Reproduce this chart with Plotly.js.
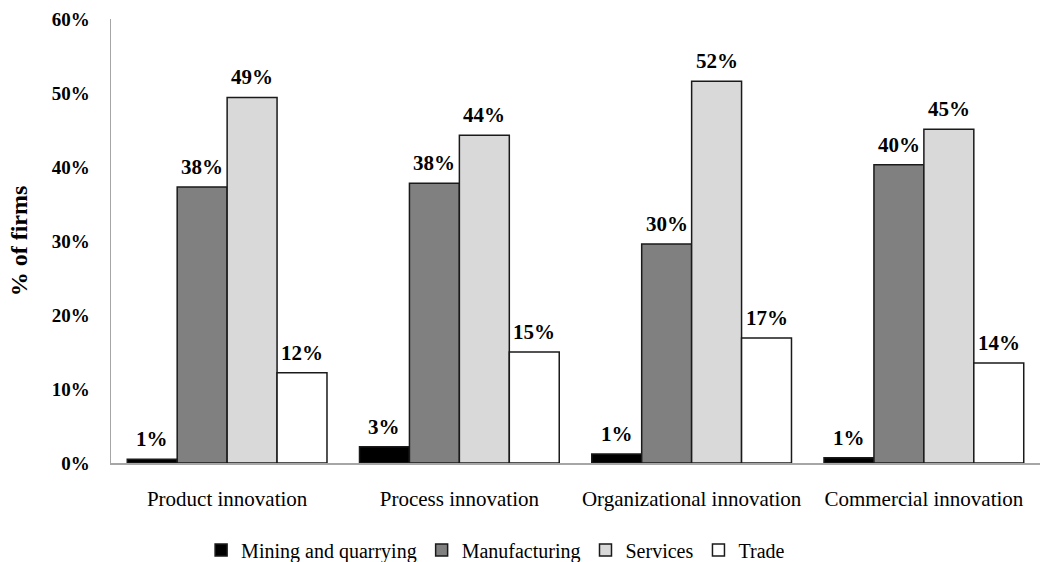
<!DOCTYPE html>
<html>
<head>
<meta charset="utf-8">
<script src="https://cdn.plot.ly/plotly-3.0.1.min.js"></script>
<style>html,body{margin:0;padding:0;background:#fff;}#chart{width:1049px;height:562px;}</style>
</head>
<body>
<div id="chart"></div>
<script>
const categories = ["Product innovation", "Process innovation", "Organizational innovation", "Commercial innovation"];
const seriesNames = ["Mining and quarrying", "Manufacturing", "Services", "Trade"];
const mining = [0.5, 2.2, 1.2, 0.7];
const manufacturing = [37.3, 37.8, 29.6, 40.3];
const services = [49.4, 44.3, 51.6, 45.1];
const trade = [12.2, 15.0, 16.9, 13.5];
const miningLabels = ["1%", "3%", "1%", "1%"];
const manufacturingLabels = ["38%", "38%", "30%", "40%"];
const servicesLabels = ["49%", "44%", "52%", "45%"];
const tradeLabels = ["12%", "15%", "17%", "14%"];
const yTicks = [0, 10, 20, 30, 40, 50, 60];
const yTickText = ["0%", "10%", "20%", "30%", "40%", "50%", "60%"];

const colors = ["#000000", "#808080", "#d9d9d9", "#ffffff"];
const values = [mining, manufacturing, services, trade];
const labels = [miningLabels, manufacturingLabels, servicesLabels, tradeLabels];
const serif = "Liberation Serif, Times New Roman, serif";

const W = 1049, H = 562;
const margin = {l: 111, r: 9, t: 19, b: 99, autoexpand: false};
const bargap = 0.14;
const plotW = W - margin.l - margin.r;
const barPx = plotW / categories.length * (1 - bargap) / seriesNames.length;

const traces = seriesNames.map((name, i) => ({
  type: "bar",
  name: name,
  x: categories,
  y: values[i],
  marker: {color: colors[i], line: {color: "#1a1a1a", width: 1.5}},
  hoverinfo: "skip"
}));

const annotations = [];
seriesNames.forEach((name, i) => {
  categories.forEach((c, j) => {
    annotations.push({
      x: c, y: values[i][j], xref: "x", yref: "y",
      text: labels[i][j], showarrow: false,
      xanchor: "center", yanchor: "bottom",
      xshift: (i - (seriesNames.length - 1) / 2) * barPx, yshift: 6,
      font: {family: serif, size: 21, color: "#000", weight: "bold"}
    });
  });
});

const layout = {
  width: W, height: H,
  margin: margin,
  paper_bgcolor: "#fff", plot_bgcolor: "#fff",
  barmode: "group",
  bargap: bargap,
  bargroupgap: 0,
  showlegend: true,
  annotations: annotations,
  legend: {orientation: "h", x: 0.414, xanchor: "center", y: -0.196, yanchor: "middle",
           font: {family: serif, size: 20, color: "#000"}, itemwidth: 30, traceorder: "normal"},
  xaxis: {
    showline: true, linecolor: "#a6a6a6", linewidth: 1.5,
    ticks: "outside", ticklen: 16, tickcolor: "rgba(0,0,0,0)",
    tickfont: {family: serif, size: 21, color: "#000"},
    showgrid: false, zeroline: false
  },
  yaxis: {
    range: [0, 60],
    tickvals: yTicks,
    ticktext: yTickText,
    showline: true, linecolor: "#a6a6a6", linewidth: 1.5,
    ticks: "outside", ticklen: 16, tickcolor: "rgba(0,0,0,0)",
    tickfont: {family: serif, size: 19, color: "#000", weight: "bold"},
    showgrid: false, zeroline: false,
    title: {text: "% of firms", font: {family: serif, size: 24, color: "#000", weight: "bold"}, standoff: 17}
  }
};

Plotly.newPlot("chart", traces, layout, {displayModeBar: false, staticPlot: true});
</script>
</body>
</html>
